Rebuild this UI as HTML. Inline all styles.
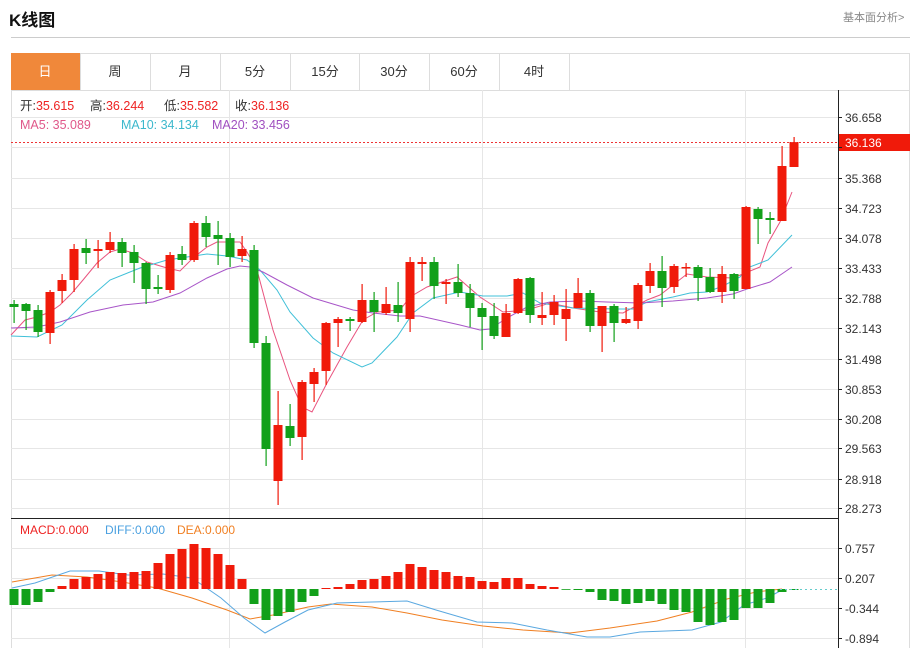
<!DOCTYPE html>
<html><head><meta charset="utf-8"><style>
body{margin:0;width:915px;height:648px;background:#fff;overflow:hidden;font-family:"Liberation Sans","Noto Sans CJK SC",sans-serif;position:relative}
.t{position:absolute;white-space:nowrap}
</style></head><body>
<div class="t" style="left:9px;top:6px;font-size:17px;font-weight:bold;color:#111">K线图</div>
<div class="t" style="left:843px;top:9px;font-size:11px;color:#888">基本面分析&gt;</div>
<div style="position:absolute;left:11px;top:37px;width:899px;height:1px;background:#ccc"></div>
<svg width="915" height="648" style="position:absolute;left:0;top:0" id="s">
<rect x="11.5" y="53.5" width="898" height="600" fill="none" stroke="#ddd"/>
<rect x="11" y="53" width="69" height="37" fill="#f0883a"/>
<g stroke="#ddd"><line x1="11" y1="90.5" x2="910" y2="90.5"/>
<line x1="80.5" y1="53" x2="80.5" y2="90"/><line x1="150.5" y1="53" x2="150.5" y2="90"/><line x1="220.5" y1="53" x2="220.5" y2="90"/><line x1="290.5" y1="53" x2="290.5" y2="90"/><line x1="359.5" y1="53" x2="359.5" y2="90"/><line x1="429.5" y1="53" x2="429.5" y2="90"/><line x1="499.5" y1="53" x2="499.5" y2="90"/><line x1="569.5" y1="53" x2="569.5" y2="90"/></g>
<g font-size="13" fill="#333" text-anchor="middle" font-family="Liberation Sans,Noto Sans CJK SC,sans-serif">
<text x="45" y="76" fill="#fff">日</text><text x="115" y="76">周</text><text x="185" y="76">月</text><text x="255" y="76">5分</text><text x="325" y="76">15分</text><text x="394" y="76">30分</text><text x="464" y="76">60分</text><text x="534" y="76">4时</text></g>
<g id="grid" stroke="#e6e6e6"></g>
<g id="ma" fill="none" stroke-width="1"></g>
<g id="c"></g>
<line x1="11" y1="142.5" x2="838" y2="142.5" stroke="#e33" stroke-dasharray="2,2"/>
<line x1="838.5" y1="90" x2="838.5" y2="648" stroke="#222"/>
<line x1="11" y1="518.5" x2="838" y2="518.5" stroke="#222"/>
<line x1="780" y1="589.5" x2="838" y2="589.5" stroke="#6cc" stroke-dasharray="2,3"/>
<rect x="839" y="134" width="71" height="17" fill="#f01a0a"/>
<g font-size="12" fill="#333" font-family="Liberation Sans,sans-serif">
<text x="845" y="122">36.658</text><text x="845" y="183">35.368</text><text x="845" y="213">34.723</text><text x="845" y="243">34.078</text><text x="845" y="273">33.433</text><text x="845" y="303">32.788</text><text x="845" y="333">32.143</text><text x="845" y="364">31.498</text><text x="845" y="394">30.853</text><text x="845" y="424">30.208</text><text x="845" y="453">29.563</text><text x="845" y="484">28.918</text><text x="845" y="513">28.273</text>
<text x="845" y="553">0.757</text><text x="845" y="583">0.207</text><text x="845" y="613">-0.344</text><text x="845" y="643">-0.894</text>
<text x="845" y="147" fill="#fff">36.136</text></g>
<g font-size="12.5" font-family="Liberation Sans,Noto Sans CJK SC,sans-serif">
<text x="20" y="110" fill="#333">开:<tspan fill="#e22">35.615</tspan></text>
<text x="90" y="110" fill="#333">高:<tspan fill="#e22">36.244</tspan></text>
<text x="164" y="110" fill="#333">低:<tspan fill="#e22">35.582</tspan></text>
<text x="235" y="110" fill="#333">收:<tspan fill="#e22">36.136</tspan></text>
<text x="20" y="129" fill="#e0588a">MA5: 35.089</text>
<text x="121" y="129" fill="#3cb8cc">MA10: 34.134</text>
<text x="212" y="129" fill="#a050c0">MA20: 33.456</text>
<text x="20" y="534" fill="#e22" font-size="12">MACD:0.000</text>
<text x="105" y="534" fill="#4aa0e0" font-size="12">DIFF:0.000</text>
<text x="177" y="534" fill="#f07f22" font-size="12">DEA:0.000</text>
</g>
</svg>
<script>
var NS="http://www.w3.org/2000/svg",s=document.getElementById('s');
function el(p,t,a){var e=document.createElementNS(NS,t);for(var k in a)e.setAttribute(k,a[k]);p.appendChild(e);return e;}
var g=document.getElementById('grid');
[117,147,178,208,238,268,298,328,359,389,419,448,479,508,548,578,608,638].forEach(function(y){el(g,'line',{x1:11,x2:838,y1:y+.5,y2:y+.5});el(s,'line',{x1:838,x2:842,y1:y+.5,y2:y+.5,stroke:'#222'});});
[229,482,745].forEach(function(x){el(g,'line',{x1:x+.5,x2:x+.5,y1:90,y2:648});});
var C=[[304,307,300,323,'g'],[304,311,303,330,'g'],[310,332,305,337,'g'],[292,333,290,344,'r'],[280,291,274,303,'r'],[249,280,244,292,'r'],[248,253,239,264,'g'],[249,251,240,268,'r'],[242,250,232,253,'r'],[242,253,238,267,'g'],[252,263,245,283,'g'],[263,289,262,304,'g'],[287,289,275,294,'g'],[255,290,252,293,'r'],[254,260,246,265,'g'],[223,260,221,262,'r'],[223,237,216,247,'g'],[235,239,221,265,'g'],[238,257,233,267,'g'],[249,256,236,262,'r'],[250,343,245,348,'g'],[343,449,336,466,'g'],[425,481,391,505,'r'],[426,438,404,446,'g'],[382,437,380,460,'r'],[372,384,368,402,'r'],[323,371,322,385,'r'],[319,323,317,347,'r'],[319,321,317,331,'g'],[300,322,284,323,'r'],[300,312,292,332,'g'],[304,313,287,315,'r'],[305,313,282,322,'g'],[262,319,257,332,'r'],[262,264,257,281,'r'],[262,286,257,299,'g'],[282,284,279,304,'r'],[282,293,264,297,'g'],[293,308,284,327,'g'],[308,317,303,350,'g'],[316,336,303,339,'g'],[313,337,304,337,'r'],[279,313,278,314,'r'],[278,315,277,323,'g'],[315,318,292,325,'r'],[302,315,295,325,'r'],[309,319,289,341,'r'],[293,308,278,308,'r'],[293,326,290,332,'g'],[306,326,306,352,'r'],[306,323,304,342,'g'],[319,323,307,324,'r'],[285,321,283,329,'r'],[271,286,263,293,'r'],[271,288,256,307,'g'],[266,287,264,293,'r'],[267,268,263,277,'r'],[267,278,265,301,'g'],[277,292,268,293,'g'],[274,292,266,303,'r'],[274,291,273,299,'g'],[207,289,206,289,'r'],[209,219,207,244,'g'],[218,220,212,234,'g'],[166,221,146,221,'r'],[142,167,137,167,'r']];
var cg=document.getElementById('c');
var M=[605,605,602,592,586,579,577,574,572,573,572,571,563,554,549,544,548,554,565,579,604,620,616,612,602,596,588,587,584,580,579,576,572,564,567,570,572,576,577,581,582,578,578,584,586,587,589,590,592,600,601,604,603,601,604,610,612,622,625,622,620,608,608,603,592,590];
C.forEach(function(c,i){var x=14+12*i,col=c[4]=='r'?'#f01a0a':'#12a01a';
el(cg,'rect',{x:x-.5,y:c[2],width:1.2,height:c[3]-c[2],fill:col});
el(cg,'rect',{x:x-4.5,y:c[0],width:9,height:Math.max(1.5,c[1]-c[0]),fill:col});
var m=M[i],y0=589;el(cg,'rect',{x:x-4.5,y:Math.min(m,y0),width:9,height:Math.max(.8,Math.abs(m-y0)),fill:m<y0?'#f01a0a':'#12a01a'});});
var mg=document.getElementById('ma');
function pl(pts,col){el(mg,'polyline',{points:pts,stroke:col});}
pl("11,335 25,320 37,317 50,312 60,305 72,293 83,280 97,263 110,252 120,249 133,253 147,262 167,268 180,271 193,258 207,247 217,242 240,242 247,252 257,270 273,330 290,380 302,407 312,412 327,383 347,347 363,320 377,312 400,310 410,297 427,287 457,277 480,297 503,312 527,310 550,303 573,308 600,312 623,313 647,300 660,295 687,274 707,277 733,278 760,267 768,243 780,222 792,192","#e9547f");
pl("11,336 37,337 62,325 87,300 110,280 140,268 167,260 187,257 207,254 227,256 247,260 260,270 277,290 290,312 313,338 333,353 362,367 372,363 397,337 413,313 433,298 460,292 483,296 507,296 523,293 540,303 573,308 617,309 633,309 647,302 673,297 690,293 707,292 723,286 740,277 747,268 768,260 792,235","#40c0d8");
pl("11,328 37,327 60,322 90,312 123,305 153,302 180,293 207,278 227,269 240,266 250,267 263,272 287,285 313,298 353,310 373,313 400,316 420,316 460,325 480,330 490,329 507,318 527,307 550,302 580,301 607,302 640,303 673,301 707,298 733,294 747,289 770,282 792,267","#a855c8");
pl("12,582 52,575 87,577 122,582 157,588 192,598 227,610 250,619 273,615 308,607 331,604 372,607 407,613 442,620 483,626 523,630 570,633 610,628 657,621 692,612 727,599 756,592 782,589","#f07f22");
pl("12,588 35,583 70,571 99,571 128,575 163,574 192,578 221,598 244,618 265,633 285,622 308,610 337,603 372,602 407,601 436,610 477,622 512,623 547,630 587,637 610,637 640,632 692,630 721,622 744,605 767,598 782,590","#5aa8e0");
</script>
</body></html>
